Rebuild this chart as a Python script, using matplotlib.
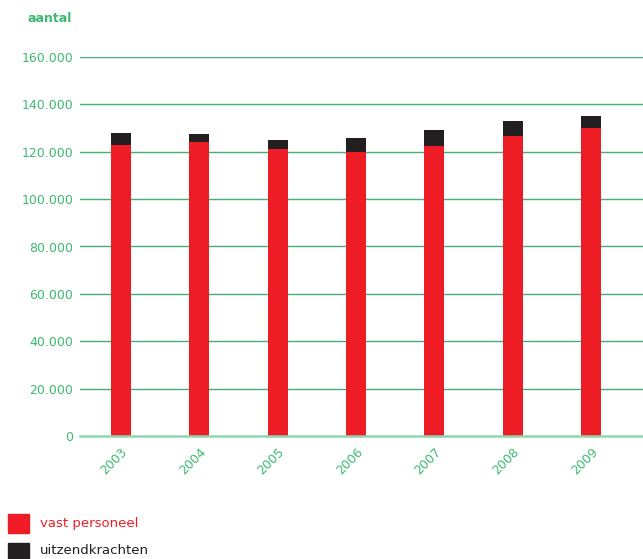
import matplotlib.pyplot as plt
import numpy as np

years = ["2003", "2004", "2005", "2006", "2007", "2008", "2009"]
vast_personeel = [122800, 124100, 121000, 120100, 122400, 126800, 129900]
uitzendkrachten = [5300, 3600, 4000, 5800, 6600, 6200, 5200]
yticks = [0, 20000, 40000, 60000, 80000, 100000, 120000, 140000, 160000]
ytick_labels = ["0", "20.000", "40.000", "60.000", "80.000", "100.000",
                "120.000", "140.000", "160.000"]

red = "#ee1c25"
dark = "#231f20"
green_text = "#3dba72"
green_grid = "#45ad78"

fig = plt.figure(figsize=(6.43, 5.59), dpi=100)
ax = fig.add_axes([80 / 643, 1 - 436 / 559, 563 / 643, 379 / 559])

x = np.arange(len(years))
ax.bar(x, vast_personeel, width=0.255, color=red, zorder=3)
ax.bar(x, uitzendkrachten, width=0.255, bottom=vast_personeel, color=dark, zorder=3)

ax.set_xlim(-0.52, 6.66)
ax.set_ylim(0, 160000)
ax.set_yticks(yticks)
ax.set_yticklabels(ytick_labels)
for t in yticks[1:]:
    ax.axhline(t, color=green_grid, lw=1.0, zorder=1)
ax.axhline(0, color="#8fd6ae", lw=1.8, zorder=4, clip_on=False)

for s in ax.spines.values():
    s.set_visible(False)
ax.tick_params(axis="y", length=0, pad=5, labelsize=9, labelcolor=green_text)
ax.tick_params(axis="x", length=0, pad=7, labelsize=9, labelcolor=green_text)
ax.set_xticks(x)
ax.set_xticklabels(years, rotation=45, ha="right", va="top", rotation_mode="anchor")

fig.text(72 / 643, 1 - 18 / 559, "aantal", ha="right", va="center",
         color=green_text, fontsize=9, fontweight="bold")

# legend
fig.patches.append(plt.Rectangle((8 / 643, 1 - 533 / 559), 21 / 643, 19 / 559,
                                 transform=fig.transFigure, color=red))
fig.patches.append(plt.Rectangle((8 / 643, 1 - 559 / 559), 21 / 643, 16 / 559,
                                 transform=fig.transFigure, color=dark))
fig.text(40 / 643, 1 - 523 / 559, "vast personeel", ha="left", va="center",
         color=red, fontsize=9.5)
fig.text(40 / 643, 1 - 551 / 559, "uitzendkrachten", ha="left", va="center",
         color=dark, fontsize=9.5)

fig.savefig("out.png", dpi=100)
